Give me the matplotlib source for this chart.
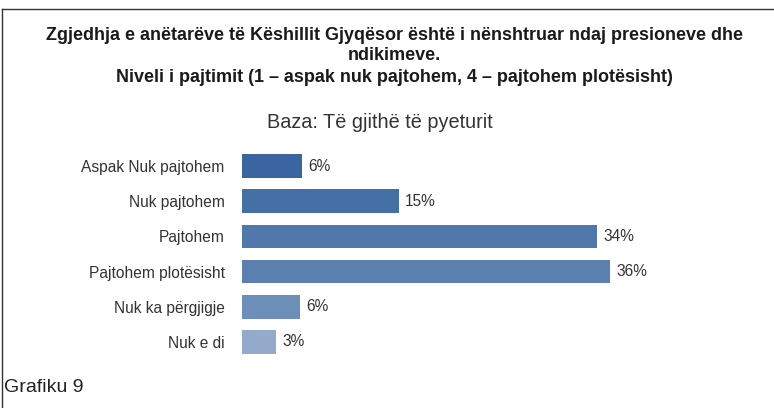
import matplotlib
matplotlib.use("Agg")
import matplotlib.pyplot as plt
from matplotlib.lines import Line2D

plt.rcParams['font.family'] = ['Liberation Sans', 'DejaVu Sans']

categories = ["Aspak Nuk pajtohem", "Nuk pajtohem", "Pajtohem",
              "Pajtohem plotësisht", "Nuk ka përgjigje", "Nuk e di"]
values = [5.8, 15.2, 34.4, 35.7, 5.6, 3.3]
colors = ["#3A65A0", "#4570A6", "#5078AB", "#5B80B0", "#6E8EBA", "#93AACB"]

title_lines = ["Zgjedhja e anëtarëve të Këshillit Gjyqësor është i nënshtruar ndaj presioneve dhe",
               "ndikimeve.",
               "Niveli i pajtimit (1 – aspak nuk pajtohem, 4 – pajtohem plotësisht)"]
subtitle = "Baza: Të gjithë të pyeturit"
footer = "Grafiku 9"

W, H = 774, 408
fig = plt.figure(figsize=(W / 100, H / 100), dpi=100)
fig.patch.set_facecolor("white")

# frame lines (top and left visible)
fig.add_artist(Line2D([2 / W, 1], [1 - 8.5 / H, 1 - 8.5 / H], color="#333333", lw=1.0))
fig.add_artist(Line2D([2 / W, 2 / W], [0, 1 - 8.5 / H], color="#333333", lw=1.0))

# title
ys = [35, 55, 77]
for t, y in zip(title_lines, ys):
    fig.text(394 / W, 1 - y / H, t, ha="center", va="center", fontsize=13.0,
             fontweight="bold", color="#1a1a1a")
fig.text(380 / W, 1 - 122 / H, subtitle, ha="center", va="center", fontsize=14.3,
         color="#333333")
fig.text(4 / W, 1 - 387 / H, footer, ha="left", va="center", fontsize=14,
         color="#222222")

# axes
scale = 10.32  # px per percent
xmax = 40
left = 242
ax = fig.add_axes([left / W, 1 - 359.6 / H, scale * xmax / W, (359.6 - 148.4) / H])
ypos = list(range(len(categories)))
ax.barh(ypos, values, height=0.67, color=colors)
ax.set_xlim(0, xmax)
ax.set_ylim(len(categories) - 0.5, -0.5)
for sp in ax.spines.values():
    sp.set_visible(False)
ax.set_xticks([])
ax.set_yticks(ypos)
ax.set_yticklabels(categories, fontsize=11.2, color="#333333")
ax.tick_params(axis="y", length=0, pad=12.5)
for y, v in zip(ypos, values):
    ax.text(v + 0.6, y, f"{round(v)}%", va="center", ha="left", fontsize=11.2,
            color="#333333")

fig.savefig("out.png", dpi=100, facecolor="white")
